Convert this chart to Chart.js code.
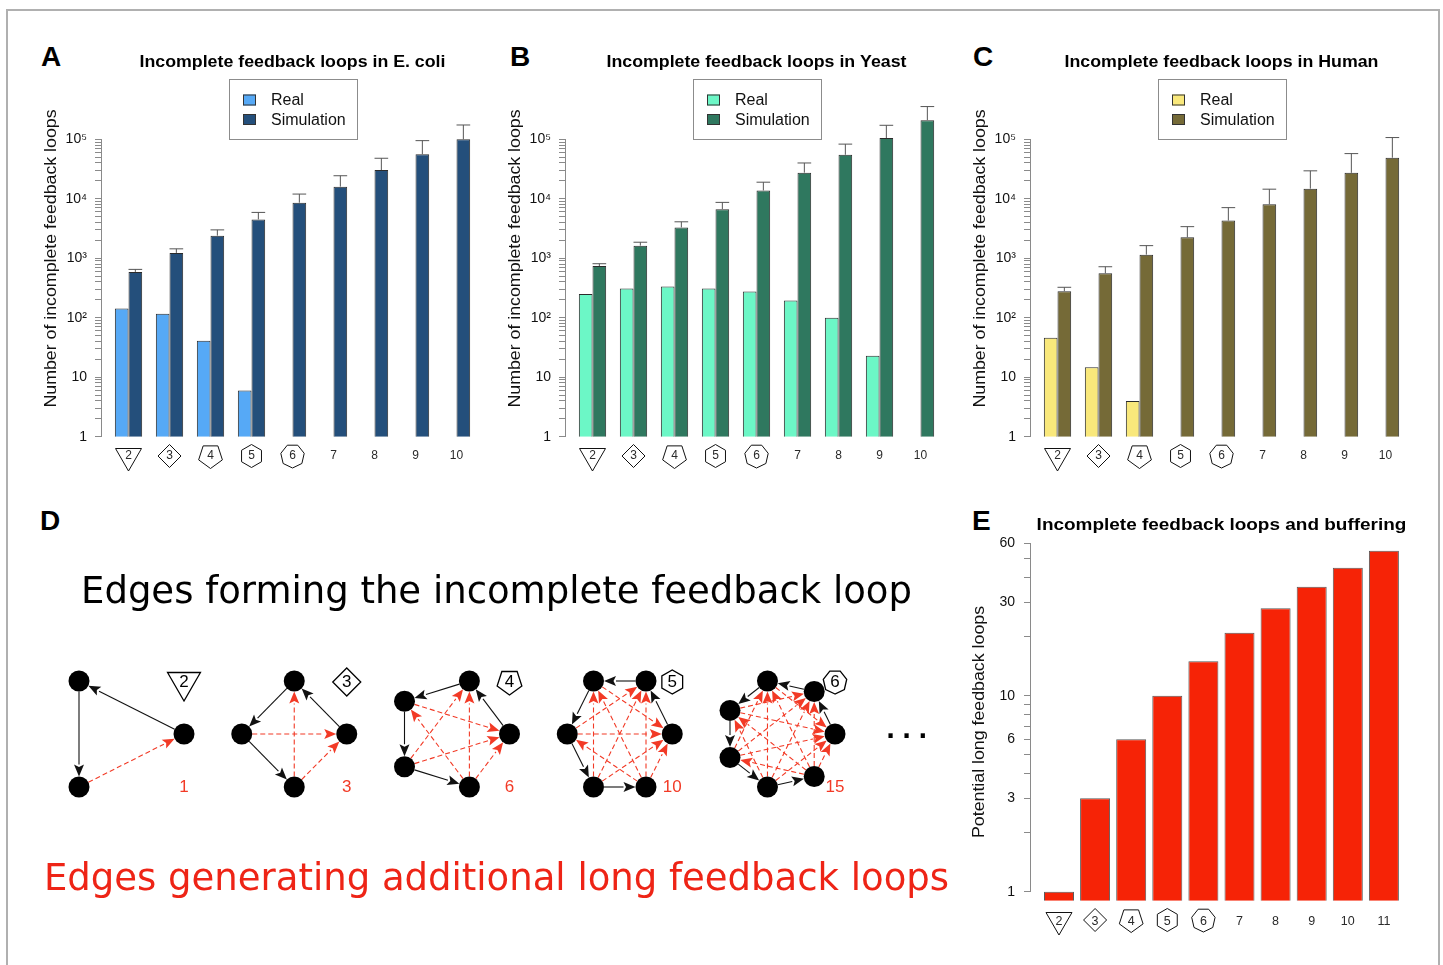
<!DOCTYPE html>
<html>
<head>
<meta charset="utf-8">
<title>Incomplete feedback loops</title>
<script src="https://cdn.jsdelivr.net/npm/chart.js"></script>
<style>
  body { margin: 0; background: #fff; }
  #page { position: relative; width: 1443px; height: 965px; overflow: hidden; background: #fff; }
  #frame { position: absolute; left: 6px; top: 9px; width: 1430px; height: 980px; border: 2px solid #b0b0b0; }
  canvas { position: absolute; }
  .tag { position: absolute; font: bold 28px/28px "Liberation Sans", Arial, sans-serif; color: #000; }
  .caption { position: absolute; left: 0; width: 993px; text-align: center; white-space: nowrap;
             font: 37px/37px "DejaVu Sans", sans-serif; color: #000; }
  #dots { position: absolute; left: 886px; top: 718px; font: bold 24px/24px "DejaVu Sans", sans-serif; letter-spacing: 7px; }
</style>
</head>
<body>
<div id="page">
  <div id="frame"></div>
  <div class="tag" style="left:41px;top:43px">A</div>
  <div class="tag" style="left:510px;top:43px">B</div>
  <div class="tag" style="left:973px;top:43px">C</div>
  <div class="tag" style="left:40px;top:507px">D</div>
  <div class="tag" style="left:972px;top:507px">E</div>

  <canvas id="ecoli" width="490" height="480" style="left:1px;top:0"></canvas>
  <canvas id="yeast" width="490" height="480" style="left:465px;top:0"></canvas>
  <canvas id="human" width="490" height="480" style="left:930px;top:0"></canvas>
  <canvas id="motifs" width="960" height="180" style="left:0;top:640px"></canvas>
  <canvas id="buffer" width="500" height="470" style="left:930px;top:490px"></canvas>

  <div class="caption" style="top:572px">Edges forming the incomplete feedback loop</div>
  <div class="caption" style="top:859px;color:#ee2416">Edges generating additional long feedback loops</div>
  <div id="dots">...</div>
</div>

<script>
const FAMILY = '"Liberation Sans", Arial, sans-serif';

// loop lengths on the x axis of A-C
const loopLengths = [2, 3, 4, 5, 6, 7, 8, 9, 10];
const logTicks = [1, 2, 3, 4, 5, 6, 7, 8, 9, 10, 20, 30, 40, 50, 60, 70, 80, 90,
  100, 200, 300, 400, 500, 600, 700, 800, 900, 1000, 2000, 3000, 4000, 5000, 6000, 7000, 8000, 9000,
  10000, 20000, 30000, 40000, 50000, 60000, 70000, 80000, 90000, 100000];
const logTickText = { 1: '1', 10: '10', 100: '10²', 1000: '10³', 10000: '10⁴', 100000: '10⁵' };

// E. coli
const ecoliReal = [143, 117, 41, 6, null, null, null, null, null];
const ecoliSim = [590, 1230, 2400, 4500, 8600, 16000, 30400, 56000, 100000];
const ecoliSimUpper = [650, 1440, 3000, 5900, 12000, 24400, 48000, 95000, 174000];

// Yeast
const yeastReal = [250, 310, 335, 310, 275, 195, 100, 23, null];
const yeastSim = [740, 1630, 3300, 6700, 13800, 27500, 55000, 105000, 210000];
const yeastSimUpper = [810, 1860, 4100, 8700, 19000, 40000, 83000, 172000, 355000];

// Human
const humanReal = [46, 14.7, 4, null, null, null, null, null, null];
const humanSim = [280, 560, 1150, 2250, 4300, 8100, 14800, 27300, 49000];
const humanSimUpper = [325, 720, 1630, 3400, 7100, 14500, 29500, 57500, 107000];

// E: potential long feedback loops per loop length
const bufferLengths = [2, 3, 4, 5, 6, 7, 8, 9, 10, 11];
const bufferLoops = [1, 3, 6, 10, 15, 21, 28, 36, 45, 55];
const bufferTicks = [1, 2, 3, 4, 5, 6, 7, 8, 9, 10, 20, 30, 40, 50, 60];
const bufferTickText = { 1: '1', 3: '3', 6: '6', 10: '10', 30: '30', 60: '60' };

// D: motifs of loop length k (k + 1 nodes) and their extra edges
const motifSizes = [2, 3, 4, 5, 6];
const extraEdgeCounts = [1, 3, 6, 10, 15];

const AXIS_BADGE = { 2: 15, 3: 11.5, 4: 12.5, 5: 11.5, 6: 12 };
const MOTIF_BADGE = { 2: 19, 3: 14, 4: 13, 5: 12, 6: 12 };

// polygon with len+1 corners, one corner pointing down
function badge(ctx, x, y, len, r) {
  const sides = len + 1;
  ctx.beginPath();
  for (let k = 0; k < sides; k++) {
    const a = Math.PI / 2 + 2 * Math.PI * k / sides;
    const px = x + r * Math.cos(a), py = y + r * Math.sin(a);
    if (k) ctx.lineTo(px, py); else ctx.moveTo(px, py);
  }
  ctx.closePath();
  ctx.stroke();
}

// text drawn a little wider than the font's natural width
function wideText(ctx, text, x, y, stretch, rotate) {
  ctx.save();
  ctx.translate(x, y);
  if (rotate) ctx.rotate(-Math.PI / 2);
  ctx.scale(stretch, 1);
  ctx.fillText(text, 0, 0);
  ctx.restore();
}

const errorBars = {
  id: 'errorBars',
  afterDatasetsDraw(chart) {
    const ctx = chart.ctx, ys = chart.scales.y;
    chart.data.datasets.forEach((ds, i) => {
      if (!ds.upper) return;
      const meta = chart.getDatasetMeta(i);
      ctx.save();
      ctx.strokeStyle = '#555';
      ctx.lineWidth = 1;
      meta.data.forEach((bar, j) => {
        const u = ds.upper[j];
        if (u == null) return;
        const top = ys.getPixelForValue(u);
        ctx.beginPath();
        ctx.moveTo(bar.x, bar.y);
        ctx.lineTo(bar.x, top);
        ctx.moveTo(bar.x - bar.width / 2, top);
        ctx.lineTo(bar.x + bar.width / 2, top);
        ctx.stroke();
      });
      ctx.restore();
    });
  }
};

const panelDecor = {
  id: 'panelDecor',
  afterDraw(chart, _args, o) {
    const ctx = chart.ctx;
    ctx.save();
    ctx.fillStyle = '#000';
    ctx.textAlign = 'center';
    ctx.textBaseline = 'alphabetic';
    ctx.font = 'bold 16px ' + FAMILY;
    wideText(ctx, o.title, o.titleX, o.titleY, o.titleStretch, false);

    ctx.font = '16px ' + FAMILY;
    ctx.textBaseline = 'middle';
    ctx.fillStyle = '#111';
    wideText(ctx, o.axisTitle, o.axisTitleX, o.axisTitleY, 1.11, true);

    if (o.showLegend) {
      ctx.strokeStyle = '#8c8c8c';
      ctx.lineWidth = 1;
      ctx.strokeRect(228.5, 79.5, 128, 60);
      ctx.font = '16px ' + FAMILY;
      ctx.textAlign = 'left';
      ctx.textBaseline = 'middle';
      chart.data.datasets.forEach((ds, i) => {
        const cy = 100 + i * 19.5;
        ctx.fillStyle = ds.backgroundColor;
        ctx.fillRect(242, cy - 5.5, 13, 11);
        ctx.strokeStyle = '#333';
        ctx.strokeRect(242.5, cy - 5, 12, 10);
        ctx.fillStyle = '#111';
        ctx.fillText(ds.label, 270, cy + 1);
      });
    }

    const xs = chart.scales.x;
    ctx.strokeStyle = '#111';
    ctx.lineWidth = 1;
    xs.ticks.forEach((t, i) => {
      if (AXIS_BADGE[t.value]) badge(ctx, xs.getPixelForTick(i), o.badgeY, t.value, AXIS_BADGE[t.value]);
    });
    ctx.restore();
  }
};

function pairs(xs, ys) {
  return xs.map((x, i) => ({ x: x, y: ys[i] }));
}

function logPanel(id, title, real, sim, simUpper, colors) {
  return new Chart(document.getElementById(id), {
    type: 'bar',
    data: {
      datasets: [
        { label: 'Real', data: pairs(loopLengths, real), backgroundColor: colors[0] },
        { label: 'Simulation', data: pairs(loopLengths, sim), upper: simUpper, backgroundColor: colors[1] }
      ]
    },
    options: {
      responsive: false,
      devicePixelRatio: 1,
      animation: false,
      events: [],
      layout: { autoPadding: false, padding: { left: 0, right: 10, top: 139.3, bottom: 13.3 } },
      datasets: {
        bar: { borderColor: '#2b2b2b', borderWidth: 1, clip: false, categoryPercentage: 2 / 3, barPercentage: 1 }
      },
      scales: {
        x: {
          type: 'linear', offset: false, min: 1.329, max: 10.597,
          afterBuildTicks: s => { s.ticks = loopLengths.map(v => ({ value: v })); },
          afterFit: s => { s.height = 30; },
          border: { display: false },
          grid: { display: false, drawTicks: false, offset: false },
          ticks: { autoSkip: false, maxRotation: 0, padding: 12, color: '#2a2a2a', font: { size: 12 } }
        },
        y: {
          type: 'logarithmic', min: 1, max: 100000,
          afterBuildTicks: s => { s.ticks = logTicks.map(v => ({ value: v })); },
          afterFit: s => { s.width = 100; },
          border: { color: '#8a8a8a' },
          grid: { drawOnChartArea: false, color: '#8a8a8a', tickLength: 6 },
          ticks: { autoSkip: false, padding: 8, color: '#111', font: { size: 14 },
                   callback: v => logTickText[v] || '' }
        }
      },
      plugins: {
        legend: { display: false },
        tooltip: { enabled: false },
        panelDecor: {
          title: title, titleX: 291.5, titleY: 66.7, titleStretch: 1.11,
          axisTitle: 'Number of incomplete feedback loops', axisTitleX: 51, axisTitleY: 258.5,
          showLegend: true, badgeY: 456
        }
      }
    },
    plugins: [errorBars, panelDecor]
  });
}

Chart.defaults.font.family = FAMILY;

logPanel('ecoli', 'Incomplete feedback loops in E. coli', ecoliReal, ecoliSim, ecoliSimUpper, ['#56a9f6', '#244f7b']);
logPanel('yeast', 'Incomplete feedback loops in Yeast', yeastReal, yeastSim, yeastSimUpper, ['#6cf7c6', '#2f785f']);
logPanel('human', 'Incomplete feedback loops in Human', humanReal, humanSim, humanSimUpper, ['#f9e87b', '#756a37']);

// E
new Chart(document.getElementById('buffer'), {
  type: 'bar',
  data: {
    datasets: [{ label: 'Potential long feedback loops', data: pairs(bufferLengths, bufferLoops),
                 backgroundColor: '#f62306', borderColor: '#5a5a5a', borderWidth: 1,
                 base: 0.9, clip: false, categoryPercentage: 0.831, barPercentage: 1 }]
  },
  options: {
    responsive: false,
    devicePixelRatio: 1,
    animation: false,
    events: [],
    layout: { autoPadding: false, padding: { left: 0, right: 20, top: 53.3, bottom: 28.3 } },
    scales: {
      x: {
        type: 'linear', offset: false, min: 1.197, max: 11.723,
        afterBuildTicks: s => { s.ticks = bufferLengths.map(v => ({ value: v })); },
        afterFit: s => { s.height = 40; },
        border: { display: false },
        grid: { display: false, drawTicks: false, offset: false },
        ticks: { autoSkip: false, maxRotation: 0, padding: 22, color: '#2a2a2a', font: { size: 12.5 } }
      },
      y: {
        type: 'logarithmic', min: 1, max: 60,
        afterBuildTicks: s => { s.ticks = bufferTicks.map(v => ({ value: v })); },
        afterFit: s => { s.width = 100; },
        border: { color: '#8a8a8a' },
        grid: { drawOnChartArea: false, color: '#8a8a8a', tickLength: 6 },
        ticks: { autoSkip: false, padding: 9, color: '#111', font: { size: 14 },
                 callback: v => bufferTickText[v] || '' }
      }
    },
    plugins: {
      legend: { display: false },
      tooltip: { enabled: false },
      panelDecor: {
        title: 'Incomplete feedback loops and buffering', titleX: 291.5, titleY: 40, titleStretch: 1.185,
        axisTitle: 'Potential long feedback loops', axisTitleX: 50, axisTitleY: 232,
        showLegend: false, badgeY: 430
      }
    }
  },
  plugins: [panelDecor]
});

// D: each motif is a polygon laid out in a unit-wide box, spaced along x
const motifSpacing = 1.55;
const NODE_R = 10.5;

function motifGraph(k, g) {
  const n = k + 1;
  const ang = Array.from({ length: n }, (_, i) => 2 * Math.PI * i / n);
  const cmin = Math.min(...ang.map(Math.cos));
  const smax = Math.max(...ang.map(Math.sin));
  const nodes = ang.map(a => ({ x: g * motifSpacing + (Math.cos(a) - cmin) / (1 - cmin), y: Math.sin(a) / smax }));
  const chain = [], extra = [];
  for (let i = 0; i + 1 < n; i++) chain.push([i, i + 1]);
  for (let i = 0; i < n; i++) for (let j = i + 2; j < n; j++) extra.push([j, i]);
  return { k: k, nodes: nodes, chain: chain, extra: extra.slice(0, extraEdgeCounts[g]), anchor: g * motifSpacing + 1 };
}
const motifs = motifSizes.map(motifGraph);

function arrow(ctx, p, q, color, dashed) {
  const dx = q.x - p.x, dy = q.y - p.y, L = Math.hypot(dx, dy);
  const ux = dx / L, uy = dy / L;
  const sx = p.x + ux * NODE_R, sy = p.y + uy * NODE_R;
  const tx = q.x - ux * NODE_R, ty = q.y - uy * NODE_R;
  const hl = 12, hw = 5;
  const bx = tx - ux * hl, by = ty - uy * hl;
  ctx.strokeStyle = color;
  ctx.setLineDash(dashed ? [5, 3] : []);
  ctx.beginPath();
  ctx.moveTo(sx, sy);
  ctx.lineTo(bx, by);
  ctx.stroke();
  ctx.setLineDash([]);
  ctx.fillStyle = color;
  ctx.beginPath();
  ctx.moveTo(tx, ty);
  ctx.lineTo(bx - uy * hw, by + ux * hw);
  ctx.lineTo(bx + ux * 2.5, by + uy * 2.5);
  ctx.lineTo(bx + uy * hw, by - ux * hw);
  ctx.closePath();
  ctx.fill();
}

const motifEdges = {
  id: 'motifEdges',
  beforeDatasetsDraw(chart) {
    const ctx = chart.ctx, xs = chart.scales.x, ys = chart.scales.y;
    const px = p => ({ x: xs.getPixelForValue(p.x), y: ys.getPixelForValue(p.y) });
    ctx.save();
    ctx.lineWidth = 1.1;
    motifs.forEach(m => {
      const pts = m.nodes.map(px);
      m.extra.forEach(([a, b]) => arrow(ctx, pts[a], pts[b], '#f23a26', true));
      m.chain.forEach(([a, b]) => arrow(ctx, pts[a], pts[b], '#111', false));
    });
    ctx.restore();
  },
  afterDatasetsDraw(chart) {
    const ctx = chart.ctx, xs = chart.scales.x, ys = chart.scales.y;
    ctx.save();
    ctx.textAlign = 'center';
    ctx.textBaseline = 'middle';
    ctx.font = '17px ' + FAMILY;
    motifs.forEach((m, g) => {
      const x = xs.getPixelForValue(m.anchor);
      const yTop = ys.getPixelForValue(1), yBot = ys.getPixelForValue(-1);
      ctx.strokeStyle = '#000';
      ctx.lineWidth = 1.3;
      badge(ctx, x, yTop + 1, m.k, MOTIF_BADGE[m.k]);
      ctx.fillStyle = '#000';
      ctx.fillText(String(m.k), x, yTop + 1);
      ctx.fillStyle = '#f23a26';
      ctx.fillText(String(extraEdgeCounts[g]), x, yBot);
    });
    ctx.restore();
  }
};

new Chart(document.getElementById('motifs'), {
  type: 'scatter',
  data: {
    datasets: motifs.map(m => ({ data: m.nodes, pointRadius: NODE_R, backgroundColor: '#000',
                                 borderWidth: 0, clip: false }))
  },
  options: {
    responsive: false,
    devicePixelRatio: 1,
    animation: false,
    events: [],
    layout: { autoPadding: false, padding: { left: 79, right: 125, top: 41, bottom: 33 } },
    scales: {
      x: { type: 'linear', display: false, min: 0, max: 7.2 },
      y: { type: 'linear', display: false, min: -1, max: 1 }
    },
    plugins: { legend: { display: false }, tooltip: { enabled: false } }
  },
  plugins: [motifEdges]
});
</script>
</body>
</html>
